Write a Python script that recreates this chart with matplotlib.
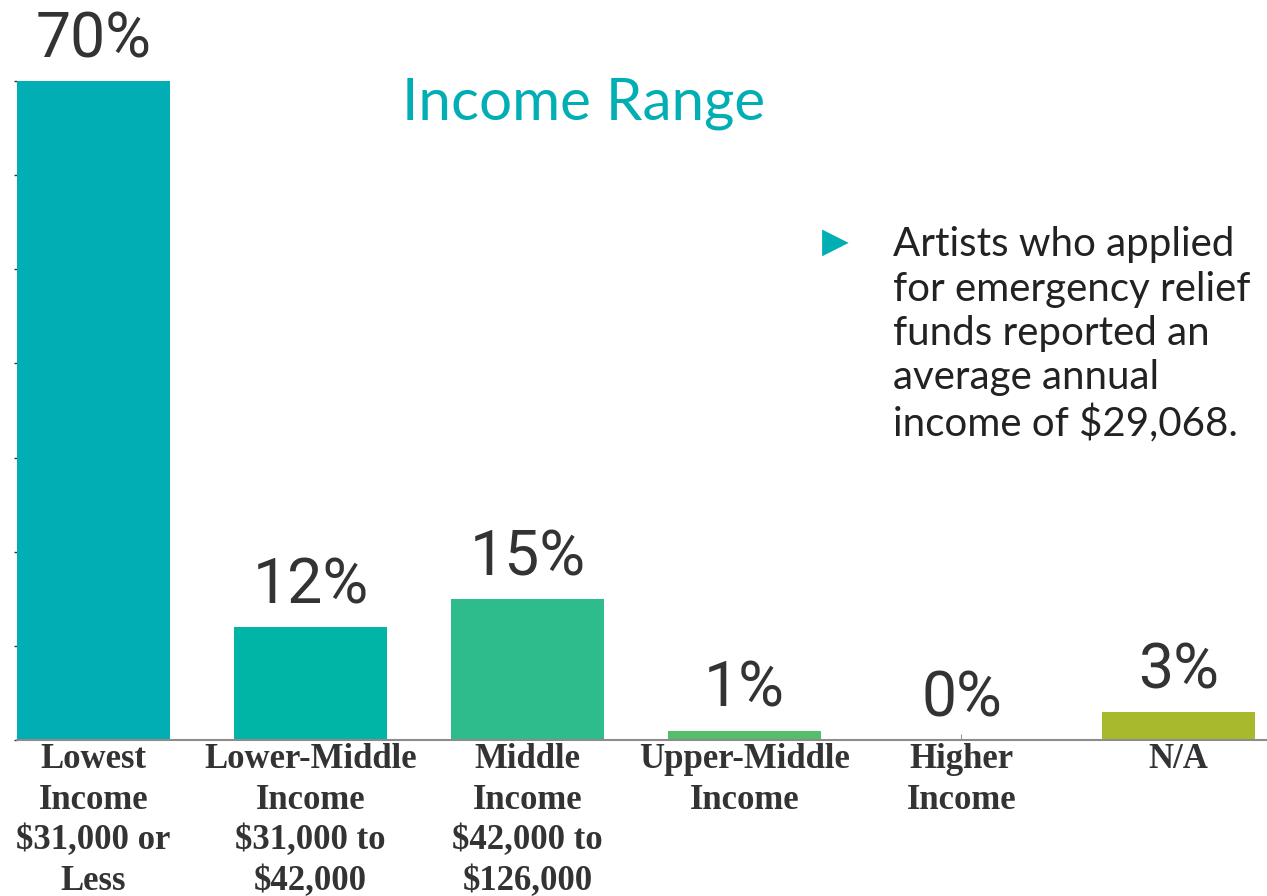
import numpy as np
import matplotlib.pyplot as plt

# income bracket shares (percent of applicants)
categories = ['Lowest\nIncome\n$31,000 or\nLess',
              'Lower-Middle\nIncome\n$31,000 to\n$42,000',
              'Middle\nIncome\n$42,000 to\n$126,000',
              'Upper-Middle\nIncome',
              'Higher\nIncome',
              'N/A']
shares = [70, 12, 15, 1, 0, 3]
bar_colors = ['#00AEB4', '#00B4A6', '#2EBC8C', '#55BE6B', '#55BE6B', '#A8BA2C']

note = ('Artists who applied\nfor emergency relief\nfunds reported an\n'
        'average annual\nincome of $29,068.')

W, H = 1267, 896
fig = plt.figure(figsize=(W / 100, H / 100), dpi=100)
ax = fig.add_axes([17 / W, (H - 740) / H, 1302 / W, 740 / H])

x = np.arange(len(categories))
ax.bar(x, shares, width=0.705, color=bar_colors, zorder=2)
ax.set_xlim(-0.3525, 5.6475)
ax.set_ylim(0, 78.6)

# value labels above bars
for xi, v in zip(x, shares):
    ax.annotate(f'{v}%', (xi, v), xytext=(0, 17), textcoords='offset points',
                ha='center', va='baseline', fontsize=45, family='Roboto',
                color='#333333')

ax.set_xticks(x)
ax.set_xticklabels(categories, family='Liberation Serif', fontweight='bold',
                   fontsize=25, color='#333333', linespacing=1.31)
ax.tick_params(axis='x', direction='in', length=4, color='#999999', pad=2)
ax.set_yticks(np.arange(0, 71, 10))
ax.set_yticklabels([])
ax.tick_params(axis='y', direction='out', length=2, width=1, color='#333333')

for s in ['top', 'right', 'left']:
    ax.spines[s].set_visible(False)
ax.spines['bottom'].set_color('#8c8c8c')
ax.spines['bottom'].set_linewidth(1.5)

# title and side note
fig.text(584 / W, 1 - 120 / H, 'Income Range', ha='center', va='baseline',
         fontsize=42, family='Lato', color='#00AEB4')
fig.text(822 / W, 1 - 242 / H, '\u25B6', ha='left', va='center',
         fontsize=25, family='DejaVu Sans', color='#00AEB4')
fig.text(893 / W, 1 - 226 / H, note, ha='left', va='top', fontsize=29,
         family='Lato', color='#222222', linespacing=1.25)

fig.savefig('out.png', dpi=100)
